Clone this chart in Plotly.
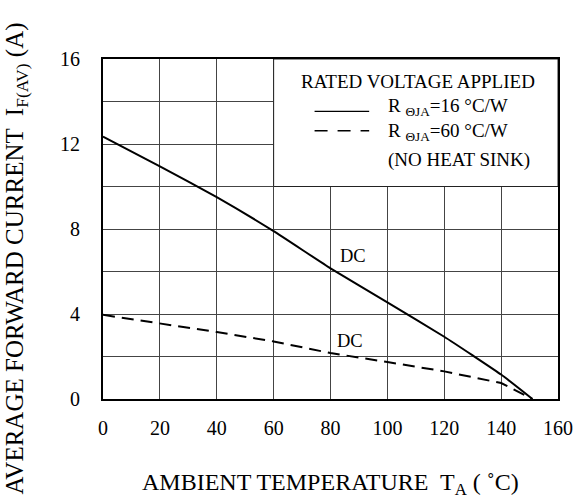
import plotly.graph_objects as go

# Data
temp_16 = [0, 20, 40, 60, 80, 100, 120, 130, 140, 151]
curr_16 = [12.35, 10.95, 9.5, 7.9, 6.15, 4.55, 2.93, 2.05, 1.15, 0.0]
temp_60 = [0, 20, 40, 60, 80, 100, 120, 140, 151]
curr_60 = [3.96, 3.57, 3.15, 2.71, 2.16, 1.74, 1.30, 0.75, 0.0]

x_ticks = [0, 20, 40, 60, 80, 100, 120, 140, 160]
y_ticks = [0, 2, 4, 6, 8, 10, 12, 14, 16]
y_labels = ["0", "", "4", "", "8", "", "12", "", "16"]

legend_title = "RATED VOLTAGE APPLIED"
legend_1 = "R <sub>ΘJA</sub>=16 °C/W"
legend_2 = "R <sub>ΘJA</sub>=60 °C/W"
legend_3 = "(NO HEAT SINK)"
curve_label = "DC"
x_title = "AMBIENT TEMPERATURE  T<sub>A</sub> ( ˚C)"
y_title = "AVERAGE FORWARD CURRENT  I<sub>F(AV)</sub> (A)"

FONT = "Liberation Serif, Times New Roman, Times, serif"

fig = go.Figure()
fig.add_trace(go.Scatter(x=temp_16, y=curr_16, mode="lines",
                         line=dict(color="black", width=2, shape="spline", smoothing=0.4),
                         showlegend=False))
fig.add_trace(go.Scatter(x=temp_60, y=curr_60, mode="lines",
                         line=dict(color="black", width=2, dash="12px,7px"), showlegend=False))

# legend box (covers the grid, below the frame)
fig.add_shape(type="rect", xref="x", yref="y", x0=60, x1=160, y0=10, y1=16,
              fillcolor="white", line=dict(color="#222", width=1), layer="between")
# legend line samples
fig.add_shape(type="line", xref="paper", yref="paper", x0=0.465, x1=0.585, y0=0.846, y1=0.846,
              line=dict(color="black", width=1.3))
fig.add_shape(type="line", xref="paper", yref="paper", x0=0.465, x1=0.585, y0=0.789, y1=0.789,
              line=dict(color="black", width=1.3, dash="13px,10px"))

ann = dict(xref="paper", yref="paper", showarrow=False, font=dict(family=FONT, size=19, color="black"))
fig.add_annotation(text=legend_title, x=0.692, y=0.934, xanchor="center", yanchor="middle", **ann)
fig.add_annotation(text=legend_1, x=0.622, y=0.858, xanchor="left", yanchor="middle", **ann)
fig.add_annotation(text=legend_2, x=0.622, y=0.785, xanchor="left", yanchor="middle", **ann)
fig.add_annotation(text=legend_3, x=0.622, y=0.703, xanchor="left", yanchor="middle", **ann)

fig.add_annotation(text=curve_label, x=88, y=6.72, xref="x", yref="y", showarrow=False,
                   font=dict(family=FONT, size=18.5, color="black"))
fig.add_annotation(text=curve_label, x=87, y=2.72, xref="x", yref="y", showarrow=False,
                   font=dict(family=FONT, size=18.5, color="black"))

# axis titles
fig.add_annotation(text=x_title, x=0.5, y=-0.25,
                   xanchor="center", yanchor="middle", xref="paper", yref="paper", showarrow=False,
                   font=dict(family=FONT, size=24, color="black"))
fig.add_annotation(text=y_title, x=-0.19, y=-0.288,
                   xanchor="center", yanchor="bottom", xref="paper", yref="paper", showarrow=False,
                   textangle=-90, font=dict(family=FONT, size=25, color="black"))

axis_common = dict(showline=True, mirror=True, linecolor="black", linewidth=2,
                   showgrid=True, gridcolor="#444", gridwidth=1, zeroline=False,
                   ticks="", tickfont=dict(family=FONT, size=20, color="black"))
fig.update_xaxes(range=[0, 160], tickvals=x_ticks, ticklabelstandoff=10, **axis_common)
fig.update_yaxes(range=[0, 16], tickvals=y_ticks, ticktext=y_labels, ticklabelstandoff=17, **axis_common)

fig.update_layout(width=585, height=502, margin=dict(l=103, r=22, t=59, b=103),
                  font=dict(family=FONT, color="black"),
                  plot_bgcolor="white", paper_bgcolor="white", showlegend=False)
fig.write_html("out.html", config={"displayModeBar": False},
               post_script="document.body.style.margin='0';")
